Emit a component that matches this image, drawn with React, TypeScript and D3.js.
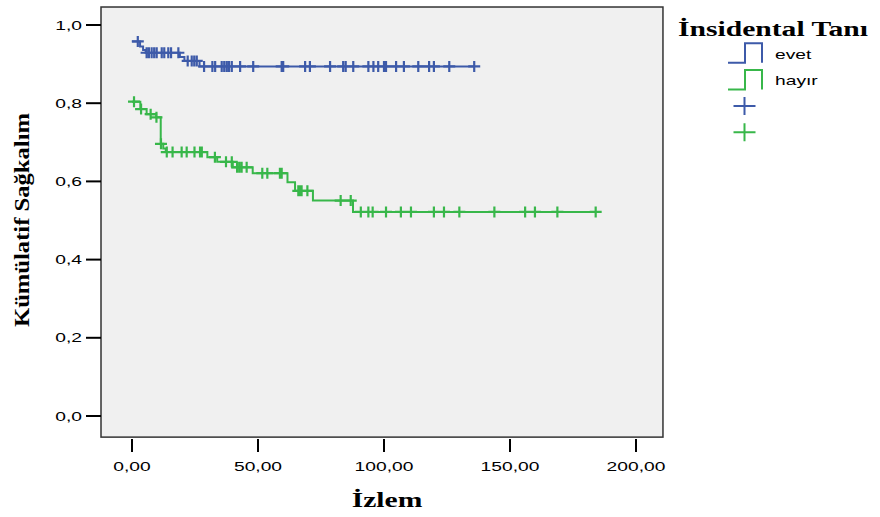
import * as d3 from "d3";

// axis ticks
const xTicks = [0, 50, 100, 150, 200];
const yTicks = [0, 0.2, 0.4, 0.6, 0.8, 1.0];

// groups of "İnsidental Tanı"
const groupNames = ["evet", "hayır"];
const groupColors = ["#3d5aa9", "#38b74a"];

// evet: event times and survival after each step
const stepTimesEvet = [0, 3.2, 4.4, 5.4, 19, 20.8, 26.8];
const stepSurvEvet = [0.958, 0.945, 0.936, 0.929, 0.918, 0.908, 0.894];
// evet: censored times
const censorEvet = [
  2.3, 5.8, 6.7, 7.8, 8.8, 9.8, 11.8, 12.8, 14.4, 15.5, 18.4, 22.1, 23.7, 24.7, 25.7, 28.6,
  31.9, 33.0, 35.6, 36.6, 37.6, 38.5, 39.6, 42.9, 48.1, 59.4, 60.0, 68.7, 70.6, 78.6, 83.8,
  84.8, 87.8, 93.8, 95.8, 97.7, 100.0, 100.8, 104.8, 107.9, 113.6, 117.9, 119.8, 125.9, 135.8,
];

// hayır
const stepTimesHayir = [0, 3.3, 5.8, 9.6, 11.4, 12.4, 13.4, 29.9, 33.8, 40, 47.9, 61.7, 64.7, 71.8, 87.7];
const stepSurvHayir = [
  0.804, 0.785, 0.772, 0.764, 0.696, 0.684, 0.675, 0.662, 0.65, 0.636, 0.621, 0.598, 0.576, 0.551, 0.522,
];
const censorHayir = [
  0.8, 3.6, 7.4, 9.7, 11.5, 13.8, 16.1, 19.7, 21.7, 24.8, 27.0, 27.7, 32.9, 37.3, 39.6, 41.7,
  42.6, 43.5, 45.5, 51.7, 53.7, 58.7, 59.4, 66.0, 66.7, 67.3, 69.6, 82.8, 86.8, 90.8, 93.8,
  95.5, 100.8, 106.7, 110.7, 119.8, 123.8, 129.9, 143.8, 156.0, 159.9, 168.8, 184.0,
];

const W = 880;
const H = 517;
const SANS = "'Liberation Sans', Arial, sans-serif";
const SERIF = "'Liberation Serif', 'Times New Roman', serif";
const STRETCH = 1.48; // glyphs in the picture are wide

const x = d3.scaleLinear().domain([0, 200]).range([132, 636]);
const y = d3.scaleLinear().domain([0, 1]).range([416, 25]);

const box = { x0: x(-12.3), x1: x(210.7), y0: y(1.046), y1: y(-0.054) };

const fmtX = (v: number) => d3.format(".2f")(v).replace(".", ",");
const fmtY = (v: number) => d3.format(".1f")(v).replace(".", ",");

const survAt = (times: number[], surv: number[], t: number) => {
  const i = d3.bisectRight(times, t) - 1;
  return surv[Math.max(0, i)];
};

const series = [
  { times: stepTimesEvet, surv: stepSurvEvet, censor: censorEvet, color: groupColors[0] },
  { times: stepTimesHayir, surv: stepSurvHayir, censor: censorHayir, color: groupColors[1] },
];

const line = d3
  .line<[number, number]>()
  .x((d) => x(d[0]))
  .y((d) => y(d[1]))
  .curve(d3.curveStepAfter);

const plusPath = (cx: number, cy: number, hw: number, hh: number) =>
  `M${cx - hw},${cy}h${hw * 2}M${cx},${cy - hh}v${hh * 2}`;

const App = () => {
  return (
    <svg
      width={W}
      height={H}
      style={{ position: "absolute", left: 0, top: 0, background: "#fff" }}
    >
      {/* plot area */}
      <rect
        x={box.x0}
        y={box.y0}
        width={box.x1 - box.x0}
        height={box.y1 - box.y0}
        fill="#f0f0f0"
        stroke="#333"
        strokeWidth={1.5}
      />

      {/* y axis */}
      {yTicks.map((t) => (
        <g key={"y" + t}>
          <line x1={box.x0 - 15} x2={box.x0} y1={y(t)} y2={y(t)} stroke="#000" strokeWidth={2} />
          <g transform={`translate(${box.x0 - 19},${y(t) + 4.5}) scale(${STRETCH},1)`}>
            <text textAnchor="end" fontFamily={SANS} fontSize={13} fill="#000">
              {fmtY(t)}
            </text>
          </g>
        </g>
      ))}

      {/* x axis */}
      {xTicks.map((t) => (
        <g key={"x" + t}>
          <line x1={x(t)} x2={x(t)} y1={box.y1 + 2} y2={box.y1 + 15} stroke="#000" strokeWidth={2} />
          <g transform={`translate(${x(t)},${box.y1 + 34}) scale(${STRETCH},1)`}>
            <text textAnchor="middle" fontFamily={SANS} fontSize={13} fill="#000">
              {fmtX(t)}
            </text>
          </g>
        </g>
      ))}

      {/* axis titles */}
      <g transform={`translate(387,507) scale(${STRETCH},1)`}>
        <text textAnchor="middle" fontFamily={SERIF} fontWeight="bold" fontSize={20} fill="#000">
          İzlem
        </text>
      </g>
      <g transform="translate(29,220) rotate(-90)">
        <text
          textAnchor="middle"
          fontFamily={SERIF}
          fontWeight="bold"
          fontSize={22}
          fill="#000"
          textLength={214}
          lengthAdjust="spacingAndGlyphs"
        >
          Kümülatif Sağkalım
        </text>
      </g>

      {/* survival curves */}
      {series.map((s, i) => {
        const last = s.censor[s.censor.length - 1];
        const pts: [number, number][] = s.times.map((t, j) => [t, s.surv[j]]);
        pts.push([last, s.surv[s.surv.length - 1]]);
        return (
          <g key={"s" + i}>
            <path d={line(pts) || ""} fill="none" stroke={s.color} strokeWidth={2} />
            <path
              d={s.censor
                .map((t) => plusPath(x(t), y(survAt(s.times, s.surv, t)), 6, 5.5))
                .join("")}
              fill="none"
              stroke={s.color}
              strokeWidth={2.2}
            />
          </g>
        );
      })}

      {/* legend */}
      <g transform={`translate(678,36) scale(${STRETCH},1)`}>
        <text fontFamily={SERIF} fontWeight="bold" fontSize={20} fill="#000">
          İnsidental Tanı
        </text>
      </g>
      {groupNames.map((name, i) => {
        const top = 43.3 + i * 26.7;
        const bot = top + 19.4;
        return (
          <g key={"lg" + name}>
            <path
              d={`M728,${bot}H745V${top}H762V${bot}`}
              fill="none"
              stroke={groupColors[i]}
              strokeWidth={2}
            />
            <g transform={`translate(775,${59 + i * 26}) scale(${STRETCH},1)`}>
              <text fontFamily={SANS} fontSize={13} fill="#000">
                {name}
              </text>
            </g>
          </g>
        );
      })}
      {groupNames.map((name, i) => (
        <path
          key={"lp" + name}
          d={plusPath(744.5, 106 + i * 26.3, 11, 9)}
          fill="none"
          stroke={groupColors[i]}
          strokeWidth={2}
        />
      ))}
    </svg>
  );
};

export default App;
